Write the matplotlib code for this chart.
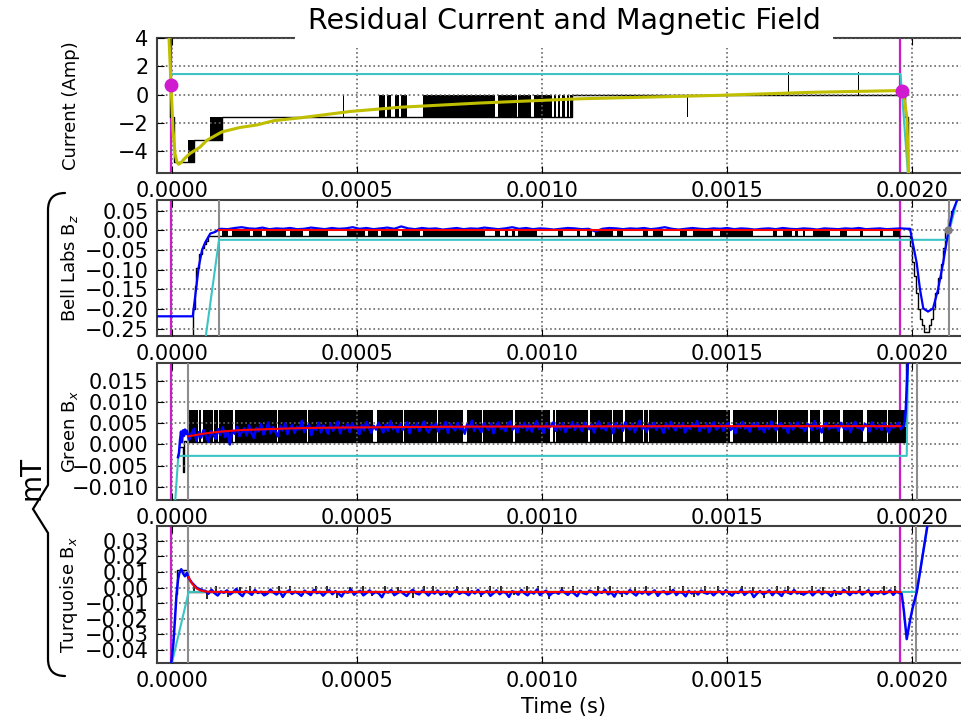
import numpy as np
import matplotlib
matplotlib.use("Agg")
import matplotlib.pyplot as plt
from matplotlib.path import Path
from matplotlib.patches import PathPatch
from matplotlib.ticker import MultipleLocator, FuncFormatter

plt.rcParams['path.simplify'] = False

US = 1e-6    # times below are typed in microseconds
UT = 1e-3    # small fields typed in microtesla, plotted in mT

trig_t = [-2.0, 1968.0]          # magenta trigger lines

# ---------------- current panel ----------------
cur_fit_t = [-13.5, -8.1, -2.7, 2.7, 8.1, 13.5, 18.0, 25.0, 35.0, 48.6, 75.7, 94.6, 135.1, 183.8,
             229.7, 275.0, 346.0, 481.0, 616.0, 703.0, 832.0, 1103.0, 1462.0, 1732.0, 1966.0,
             1976.0, 1986.0, 1991.0]
cur_fit_v = [6.0, 4.0, 0.69, -2.5, -4.2, -4.8, -4.93, -4.8, -4.5, -4.17, -3.72, -3.23, -2.64, -2.33,
             -2.15, -1.85, -1.65, -1.2, -0.9, -0.78, -0.6, -0.3, -0.07, 0.16, 0.28, 0.25, -1.6, -6.0]
cur_dig_t = [-8.1, -5.4, 5.4, 59.5, 135.1, 1081.0, 1982.0, 1988.0, 1992.0]
cur_dig_v = [6.0, -1.6, -4.8, -3.2, -1.6, 0.0, -1.6, -6.0, -6.0]
# stretches where the digitised current toggles between two levels
cur_band_t0 = [43.2, 102.7, 461.5, 559.5, 581.1, 602.7, 618.9, 678.4, 881.1, 935.1, 978.4,
               1032.4, 1043.2, 1054.0, 1067.6, 1075.7, 1391.0, 1664.0, 1853.0]
cur_band_t1 = [59.5, 135.1, 465.0, 575.7, 591.9, 613.5, 635.1, 873.0, 932.4, 970.3, 1027.0,
               1037.8, 1048.6, 1062.2, 1073.0, 1081.1, 1395.5, 1668.5, 1857.5]
cur_band_lo = [-4.8, -3.2] + [-1.6] * 15 + [0.0, 0.0]
cur_band_hi = [-3.2, -1.6] + [0.0] * 15 + [1.6, 1.6]
cur_ref_t = [0.0, 1969.0, 1989.0]
cur_ref_v = [1.45, 1.45, -5.6]
cur_mark_t = [-2.7, 1972.0]
cur_mark_v = [0.69, 0.28]

# ---------------- Bell Labs Bz ----------------
bz_head_t = [-40.5, 56.0, 65.8, 72.2, 81.1, 90.0, 103.5, 117.0, 126.0]
bz_head_v = [-0.218, -0.218, -0.143, -0.093, -0.05, -0.03, -0.008, -0.004, 0.002]
bz_noise = [0.004, 0.003, 0.006, 0.008, 0.005, 0.004, 0.007, 0.003, 0.005, 0.004,
            0.006, 0.003, 0.004, 0.007, 0.005, 0.003, 0.006, 0.004, 0.005, 0.008,
            0.004, 0.006, 0.003, 0.005, 0.007, 0.004, 0.010, 0.005, 0.003, 0.006,
            0.004, 0.005, 0.002, 0.004, 0.006, 0.003, 0.005, 0.004, 0.007, 0.005,
            0.003, 0.005, 0.008, 0.004, 0.006, 0.003, 0.005, 0.004, 0.002, 0.004,
            0.006, 0.005, 0.003, 0.004, -0.003, 0.004, 0.006, 0.005, 0.003, 0.005,
            0.004, 0.006, 0.003, 0.005, 0.008, 0.004, 0.002, 0.004, 0.006, 0.004,
            0.003, 0.005, 0.004, 0.006, 0.003, 0.005, 0.004, 0.002, 0.004, 0.005,
            0.003, 0.006, 0.004, 0.003, 0.005, 0.004, 0.002, 0.005, 0.004, 0.003,
            0.005, 0.004, 0.006, 0.003, 0.004, 0.005, 0.003, 0.004, 0.005, 0.004]
bz_tail_t = [1994.6, 2012.7, 2021.6, 2030.5, 2043.2, 2056.8, 2070.3, 2083.8, 2097.3, 2110.8,
             2121.6, 2130.0]
bz_tail_v = [0.004, -0.083, -0.15, -0.198, -0.206, -0.198, -0.15, -0.084, -0.008, 0.05,
             0.076, 0.1]
bz_dig_t = [56.0, 57.5, 62.0, 66.0, 72.0, 80.0, 86.0, 92.0, 98.0, 1994.6, 2000.0, 2005.4,
            2010.0, 2016.2, 2021.6, 2027.0, 2032.0, 2040.0, 2046.0, 2051.4, 2056.8, 2062.0,
            2070.3, 2077.0, 2083.8, 2090.0, 2097.3, 2105.0, 2110.8]
bz_dig_v = [-0.3, -0.2, -0.14, -0.095, -0.06, -0.045, -0.035, -0.027, -0.014, -0.04, -0.08,
            -0.115, -0.16, -0.2, -0.225, -0.24, -0.257, -0.257, -0.24, -0.225, -0.2, -0.16,
            -0.12, -0.085, -0.045, -0.005, 0.03, 0.05, 0.05]
bz_seg_t0 = [135, 162, 219, 254, 319, 370, 473, 530, 565, 622, 678, 873, 900, 919, 935, 1043,
             1095, 1122, 1143, 1203, 1273, 1300, 1373, 1408, 1481, 1624, 1651, 1684, 1705,
             1732, 1805, 1860, 1914, 1949]
bz_seg_t1 = [151, 211, 243, 308, 354, 422, 522, 557, 611, 670, 846, 886, 908, 927, 987, 1057,
             1103, 1135, 1192, 1219, 1287, 1327, 1392, 1462, 1570, 1635, 1676, 1692, 1711,
             1778, 1824, 1868, 1922, 1968]
bz_fit_t = [127.0, 1968.0]
bz_fit_v = [0.002, 0.002]
bz_ref_t = [91.1, 127.0, 2095.0, 2121.6, 2135.0]
bz_ref_v = [-0.27, -0.024, -0.024, 0.077, 0.12]
bz_gray = [127.0, 2100.0]

# ---------------- Green Bx (uT) ----------------
gb_head_t = [16.2, 18.9, 21.6, 24.3, 27.0, 29.7, 32.4, 35.1, 37.8]
gb_head_v = [-3.0, -2.0, 1.0, 3.0, 0.5, 3.3, 2.0, 3.5, 2.5]
gb_noise = [3.2, 1.1, 2.6, 3.7, 0.8, 2.9, 1.6, 3.4, 2.0, 0.6, 3.1, 2.4, 1.3, 3.6, 2.2,
            4.0, 1.7, 2.9, 0.0, 3.3, 2.5, 4.2, 1.9, 3.0, 3.8, 2.1, 4.5, 2.7, 1.5, 3.9,
            3.1, 4.8, 2.3, 3.6, 5.2, 2.6, 4.1, 3.0, 1.9, 4.4, 3.3, 5.0, 2.4, 3.8, 4.6,
            2.7, 4.2, 3.5, 5.6, 2.9, 3.9, 4.7, 2.2, 4.0, 3.4, 5.1, 2.8, 4.5, 3.7, 2.5,
            4.9, 3.2, 4.1, 5.4, 2.6, 4.3, 3.6, 4.8, 2.9, 5.0, 3.8, 4.2, 2.4, 4.6, 3.3,
            5.3, 3.9, 2.7, 4.4, 3.5, 5.1, 4.0, 2.8, 4.7, 3.2, 5.5, 3.6, 4.3, 2.9, 4.8,
            3.4, 4.1, 5.2, 2.6, 4.5, 3.8, 4.9, 3.1, 4.2, 5.4, 3.5, 2.8, 4.6, 3.9, 5.0,
            3.0, 4.4, 3.7, 5.3, 2.7, 4.8, 4.0, 3.3, 5.1, 3.6, 4.3, 2.5, 4.7, 3.9, 5.6,
            3.2, 4.5, 3.8, 2.9, 5.0, 4.1, 3.4, 4.9, 2.6, 4.4, 5.2, 3.7, 4.0, 3.1, 4.8,
            5.4, 3.5, 4.2, 2.8, 4.6, 3.9, 5.1, 3.3, 4.7, 3.0, 4.3, 5.5, 3.6, 4.1, 2.7,
            4.9, 3.8, 4.4, 5.2, 3.2, 4.6, 3.5, 5.0, 2.9, 4.2, 3.9, 5.3, 3.4, 4.8, 4.0,
            3.1, 5.1, 4.3, 3.6, 4.7, 2.8, 4.5, 5.4, 3.7, 4.1, 3.3, 4.9, 4.4, 2.6, 5.0,
            3.8, 4.6, 3.2, 5.2, 4.0, 3.5, 4.8, 2.9, 4.3, 5.6, 3.6, 4.2, 3.0, 4.7, 3.9,
            5.1, 3.4, 4.5, 4.0, 2.7, 4.9, 3.7, 5.3, 4.1, 3.3, 4.6, 3.9, 5.0, 2.8, 4.4,
            3.6, 4.8, 4.2, 5.5, 3.1, 4.3, 3.8, 4.9, 2.9, 4.5, 5.2, 3.5, 4.0, 4.7, 3.2,
            4.6, 5.0, 3.4, 4.1, 2.6, 4.8, 3.9, 5.3, 3.7, 4.4, 3.0, 4.9, 4.2, 5.1, 3.5,
            4.3, 2.9, 4.7, 3.6, 5.4, 4.0, 3.3, 4.6, 5.0, 3.8, 4.2, 2.7, 4.9, 3.5, 4.4,
            5.2, 3.9, 4.1, 3.1, 4.8, 4.5, 3.4, 5.5, 3.7, 4.3, 2.8, 4.6, 5.0, 3.6, 4.2,
            3.9, 4.7, 3.2, 5.1, 4.0, 3.5, 4.9, 2.9, 4.4, 5.3, 3.8, 4.1, 3.3, 4.8, 4.5,
            3.0, 5.2, 4.3, 3.7, 4.6, 3.4, 5.0, 4.1, 2.8, 4.7, 3.9, 4.4, 5.1, 3.6, 4.2]
gb_tail_t = [1979.0, 1983.0, 1989.2, 1995.0]
gb_tail_v = [4.5, 8.0, 20.0, 30.0]
gb_fit_t = [43.2, 60.0, 75.7, 100.0, 130.0, 180.0, 257.0, 350.0, 481.0, 650.0, 832.0, 1100.0,
            1427.0, 1968.0]
gb_fit_v = [1.9, 2.15, 2.4, 2.7, 3.0, 3.35, 3.6, 3.85, 4.0, 4.1, 4.2, 4.25, 4.3, 4.3]
gb_ref_t = [8.1, 17.0, 1985.7, 1989.2]
gb_ref_v = [-14.0, -2.7, -2.7, 20.0]
gb_dig_t = [21.6, 29.7, 32.4, 37.8, 1981.0, 1984.0]
gb_dig_v = [-0.6, -6.5, 0.8, 0.5, 4.0, 25.0]
gb_seg_t0 = [39.7, 71.6, 82.4, 113.5, 127.0, 170.3, 285.1, 366.2, 554.1, 625.7, 717.6, 797.3,
             840.5, 927.0, 1029.7, 1036.5, 1129.7, 1191.9, 1224.3, 1274.3, 1287.8, 1516.2,
             1637.8, 1724.3, 1759.5, 1813.5, 1878.4, 1933.8]
gb_seg_t1 = [68.9, 78.4, 110.8, 124.3, 164.9, 282.4, 363.5, 543.2, 623.0, 714.9, 786.5, 837.8,
             921.6, 1021.6, 1033.8, 1124.3, 1187.8, 1218.9, 1271.6, 1285.1, 1508.1, 1633.8,
             1718.9, 1751.4, 1805.4, 1867.6, 1931.1, 1981.1]
gb_gray = [42.4, 2013.0]

# ---------------- Turquoise Bx (uT) ----------------
tq_head_t = [-2.7, 4.0, 8.0, 12.0, 16.2, 20.0, 25.0, 30.0, 35.0, 40.0, 45.0, 54.0, 67.6, 85.0]
tq_head_v = [-50.0, -35.0, -20.0, -5.0, 5.0, 9.4, 11.7, 9.0, 7.2, 9.4, 6.0, 3.0, -0.3, -2.0]
tq_noise = [-2.1, -4.0, -1.4, -3.6, -5.1, -2.5, -3.3, -1.8, -4.4, -2.9, -0.9, -3.8, -5.5, -2.2, -3.1,
            -4.7, -1.6, -3.5, -2.7, -5.0, -3.9, -1.3, -3.2, -4.5, -2.4, -6.0, -3.0, -1.9, -4.1, -2.6,
            -3.7, -5.3, -2.0, -3.4, -4.8, -1.5, -3.6, -2.8, -5.2, -3.1, -1.7, -4.3, -2.3, -3.9, -5.7,
            -2.5, -3.3, -1.2, -4.6, -3.0, -2.1, -5.0, -3.5, -1.8, -4.2, -2.7, -3.8, -6.2, -2.4, -3.2,
            -1.6, -4.9, -3.6, -2.2, -4.0, -5.4, -2.9, -1.4, -3.7, -4.4, -2.0, -3.1, -5.1, -2.6, -3.9,
            -1.9, -4.7, -3.3, -2.5, -5.6, -3.0, -1.7, -4.1, -2.8, -3.5, -4.9, -2.3, -3.8, -1.5, -4.5,
            -3.1, -2.2, -5.3, -3.6, -1.8, -4.3, -2.7, -3.4, -6.0, -2.4, -3.0, -4.6, -1.6, -3.7, -5.0,
            -2.6, -3.9, -1.3, -4.8, -3.2, -2.0, -5.2, -3.5, -2.9, -4.0, -1.7, -3.3, -4.7, -2.5, -3.8,
            -5.5, -2.1, -3.6, -4.2, -1.9, -3.0, -4.9, -2.7, -3.4, -1.4, -4.4, -3.1, -5.8, -2.3, -3.7,
            -2.8, -4.1, -1.6, -3.5, -5.1, -2.6, -3.9, -2.2, -4.6, -3.2, -1.8, -5.3, -3.0, -2.4, -4.3,
            -3.6, -1.5, -4.8, -2.9, -3.4, -5.6, -2.1, -3.8, -2.6, -4.5, -1.9, -3.3, -4.0, -2.7, -5.0,
            -3.1, -2.3, -4.4, -1.7, -3.7, -5.2, -2.8, -3.5, -1.4, -4.7, -3.0, -2.5, -6.1, -3.9, -2.2,
            -4.2, -3.3, -1.8, -4.9, -2.6, -3.6, -5.4, -2.0, -3.2, -4.1, -1.6, -3.8, -2.9, -4.6, -3.4,
            -2.4, -5.0, -3.1, -1.9, -4.3, -2.7, -3.7, -5.5, -2.2, -3.5, -4.0, -1.5, -3.0, -4.8, -2.8,
            -3.6, -2.1, -4.5, -3.2, -1.7, -5.1, -2.9, -3.9, -2.4, -4.2, -3.3, -1.8, -4.7, -2.6, -3.4]
tq_tail_t = [1972.0, 1978.0, 1985.7, 1994.6, 2002.7, 2012.7, 2021.6, 2043.2, 2055.0]
tq_tail_v = [-4.0, -15.0, -33.0, -21.0, -12.0, -3.0, 10.0, 42.0, 60.0]
tq_fit_t = [45.0, 50.0, 56.0, 62.0, 68.0, 76.0, 86.0, 100.0, 130.0, 1968.0]
tq_fit_v = [6.8, 4.0, 2.0, 0.5, -0.8, -1.8, -2.4, -2.7, -2.8, -2.8]
tq_ref_t = [0.0, 45.0, 2012.7, 2043.2, 2055.0]
tq_ref_v = [-48.0, -2.8, -2.8, 42.0, 60.0]
tq_dig_t = [12.0, 13.5, 40.5, 43.0, 1966.0]
tq_dig_v = [-4.0, 11.0, 11.0, -3.0, -3.0]
tq_spike_t = [60, 95, 120, 150, 185, 210, 250, 290, 320, 355, 390, 420, 445, 480, 515, 540,
              575, 610, 650, 680, 705, 740, 770, 800, 835, 860, 890, 925, 960, 990, 1020,
              1055, 1085, 1120, 1150, 1185, 1215, 1250, 1280, 1310, 1345, 1380, 1410, 1440,
              1475, 1505, 1540, 1570, 1600, 1635, 1665, 1700, 1730, 1760, 1795, 1830, 1860,
              1890, 1925, 1955]
tq_spike_v = [0.8, -7.5, 1.0, -6.0, 0.5, 1.2, -5.5, 0.9, 1.1, -4.5, 0.7, 1.3, -7.0, 0.6, 1.0,
              -5.2, 1.2, 0.4, -6.5, 1.0, 0.8, -4.8, 1.1, 0.5, -6.0, 1.2, 0.9, -5.0, 0.7, 1.0,
              -7.2, 0.6, 1.1, -4.6, 0.9, 1.3, -5.8, 0.5, 1.0, -4.4, 0.8, 1.2, -6.2, 0.7, 1.0,
              -5.0, 0.9, 0.4, -6.8, 1.1, 0.8, -4.9, 1.0, 0.6, -5.5, 1.2, 0.9, -4.2, 0.7, 1.0]
tq_gray = [43.2, 2011.0]

MAG = '#d01ad0'
CYAN = '#3cc4c4'
GRAY = '0.55'


def us(a):
    return np.asarray(a, dtype=float) * US


def xfmt(v, pos):
    if abs(v) < 1e-12:
        v = 0.0
    return f"{v:.4f}"


def style(ax, ylim, ystep, label):
    ax.set_xlim(-40.5e-6, 2156.8e-6)
    ax.set_ylim(*ylim)
    ax.xaxis.set_major_locator(MultipleLocator(0.0005))
    ax.xaxis.set_major_formatter(FuncFormatter(xfmt))
    ax.yaxis.set_major_locator(MultipleLocator(ystep))
    ax.tick_params(direction='in', top=True, right=True, labelsize=15, length=5, pad=6)
    ax.grid(True, ls=':', color='0.4', lw=1.2)
    ax.set_axisbelow(False)
    for s in ax.spines.values():
        s.set_linewidth(1.5)
        s.set_color('0.25')
    ax.set_ylabel(label, fontsize=13)
    ax.yaxis.set_label_coords(-0.095, 0.5)
    for t in trig_t:
        ax.axvline(t * US, color=MAG, lw=1.6, zorder=1.5)


def bands(ax, t0, t1, lo, hi):
    for a, b, l, h in zip(t0, t1, lo, hi):
        ax.fill_between([a * US, b * US], l, h, color='k', lw=0, zorder=2)


fig = plt.figure(figsize=(9.61, 7.22), dpi=100)
left, width = 0.1634, 0.846
rows = [(0.7604, 0.1870), (0.5346, 0.1884), (0.3075, 0.1898), (0.0817, 0.1898)]
ax1, ax2, ax3, ax4 = [fig.add_axes([left, b, width, h]) for b, h in rows]

# current
style(ax1, (-5.55, 4.0), 2, 'Current (Amp)')
ax1.step(us(cur_dig_t), cur_dig_v, where='post', color='k', lw=1.0, zorder=2)
bands(ax1, cur_band_t0, cur_band_t1, cur_band_lo, cur_band_hi)
ax1.plot(us(cur_ref_t), cur_ref_v, color=CYAN, lw=1.5, zorder=3)
ax1.plot(us(cur_fit_t), cur_fit_v, color='#bfbf00', lw=2.2, zorder=4)
ax1.plot(us(cur_mark_t), cur_mark_v, 'o', color=MAG, ms=9, zorder=5)

# Bell Labs Bz
style(ax2, (-0.268, 0.077), 0.05, 'Bell Labs B$_z$')
ax2.axvline(bz_gray[0] * US, color=GRAY, lw=1.5, zorder=2.6)
ax2.axvline(bz_gray[1] * US, color=GRAY, lw=1.5, zorder=2.6)
ax2.step(us(bz_dig_t), bz_dig_v, where='post', color='k', lw=1.0, zorder=2)
bands(ax2, bz_seg_t0, bz_seg_t1, [-0.014] * len(bz_seg_t0), [0.0] * len(bz_seg_t0))
bz_t = np.concatenate([bz_head_t, np.linspace(132.0, 1988.0, len(bz_noise)), bz_tail_t])
bz_v = np.concatenate([bz_head_v, bz_noise, bz_tail_v])
ax2.plot(us(bz_ref_t), bz_ref_v, color=CYAN, lw=1.5, zorder=3)
ax2.plot(us(bz_t), bz_v, color='#0000ff', lw=1.6, zorder=3)
ax2.plot(us(bz_fit_t), bz_fit_v, color='#ff0000', lw=1.5, zorder=4)
ax2.plot([2097.3 * US], [0.0], 'o', color='0.5', ms=5, zorder=5)

# Green Bx
style(ax3, (-0.0131, 0.0192), 0.005, 'Green B$_x$')
ax3.axvline(gb_gray[0] * US, color=GRAY, lw=1.5, zorder=2.6)
ax3.axvline(gb_gray[1] * US, color=GRAY, lw=1.5, zorder=2.6)
ax3.step(us(gb_dig_t), np.asarray(gb_dig_v) * UT, where='post', color='k', lw=1.0, zorder=2)
bands(ax3, gb_seg_t0, gb_seg_t1, [0.5 * UT] * len(gb_seg_t0), [8.0 * UT] * len(gb_seg_t0))
gb_t = np.concatenate([gb_head_t, np.linspace(40.0, 1976.0, len(gb_noise)), gb_tail_t])
gb_v = np.concatenate([gb_head_v, gb_noise, gb_tail_v]) * UT
ax3.plot(us(gb_ref_t), np.asarray(gb_ref_v) * UT, color=CYAN, lw=1.5, zorder=3)
ax3.plot(us(gb_t), gb_v, color='#0000ff', lw=1.8, zorder=3)
ax3.plot(us(gb_fit_t), np.asarray(gb_fit_v) * UT, color='#ff0000', lw=1.5, zorder=4)

# Turquoise Bx
style(ax4, (-0.0483, 0.0394), 0.01, 'Turquoise B$_x$')
ax4.axvline(tq_gray[0] * US, color=GRAY, lw=1.5, zorder=2.6)
ax4.axvline(tq_gray[1] * US, color=GRAY, lw=1.5, zorder=2.6)
ax4.step(us(tq_dig_t), np.asarray(tq_dig_v) * UT, where='post', color='k', lw=1.0, zorder=2)
ax4.vlines(us(tq_spike_t), -3.0 * UT, np.asarray(tq_spike_v) * UT, color='k', lw=1.2, zorder=2)
tq_t = np.concatenate([tq_head_t, np.linspace(90.0, 1966.0, len(tq_noise)), tq_tail_t])
tq_v = np.concatenate([tq_head_v, tq_noise, tq_tail_v]) * UT
ax4.plot(us(tq_ref_t), np.asarray(tq_ref_v) * UT, color=CYAN, lw=1.5, zorder=3)
ax4.plot(us(tq_t), tq_v, color='#0000ff', lw=1.8, zorder=3)
ax4.plot(us(tq_fit_t), np.asarray(tq_fit_v) * UT, color='#ff0000', lw=1.5, zorder=4)
ax4.set_xlabel('Time (s)', fontsize=15)

# title with a white box that hides the top spine
fig.text(0.587, 0.971, 'Residual Current and Magnetic Field', fontsize=20.5,
         ha='center', va='center',
         bbox=dict(boxstyle='square,pad=0.45', fc='white', ec='none'))

# curly brace grouping the three field panels
W, H = 961.0, 722.0
pts = [(65, 193), (48, 193), (48, 210), (48, 485), (33, 509), (48, 533), (48, 659),
       (48, 676), (65, 676)]
codes = [Path.MOVETO, Path.CURVE3, Path.CURVE3, Path.LINETO, Path.LINETO, Path.LINETO,
         Path.LINETO, Path.CURVE3, Path.CURVE3]
brace = Path([(x / W, 1 - y / H) for x, y in pts], codes)
fig.patches.append(PathPatch(brace, transform=fig.transFigure, fill=False, lw=1.6,
                             ec='k', capstyle='round'))
fig.text(31 / W, 1 - 478 / H, 'mT', rotation=90, fontsize=20, ha='center', va='center')

fig.savefig('out.png', dpi=100)
